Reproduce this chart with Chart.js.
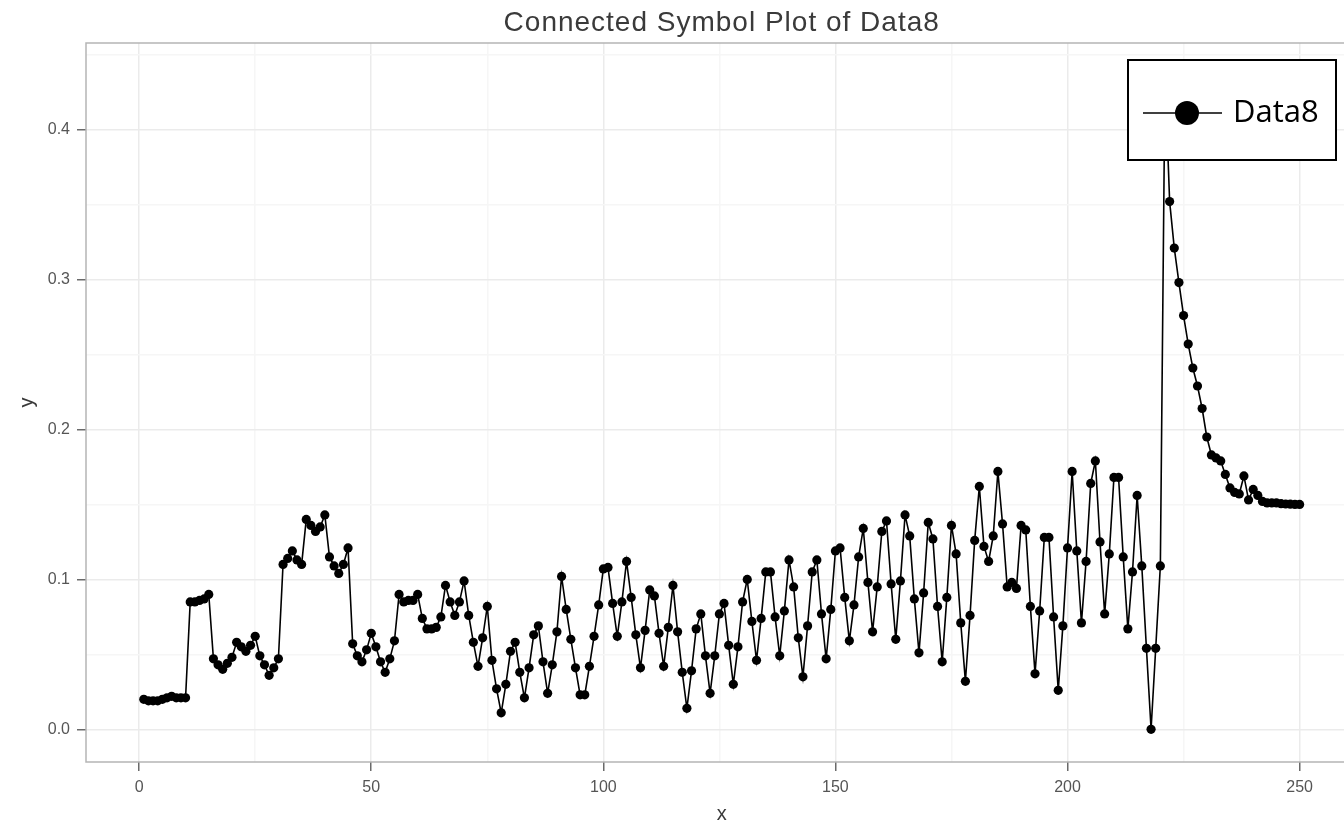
<!DOCTYPE html>
<html>
<head>
<meta charset="utf-8">
<script src="https://cdn.jsdelivr.net/npm/chart.js@4/dist/chart.umd.min.js"></script>
<style>
    html, body { margin: 0; padding: 0; background: #fff; overflow: hidden; }
    #wrap { position: relative; width: 1362px; height: 826px; }
</style>
</head>
<body>
<div id="wrap"><canvas id="plot"></canvas></div>
<script>
// Data8 readings, one per index (x = 1..250)
const data8 = [
    0.020, 0.019, 0.019, 0.019, 0.020, 0.021, 0.022, 0.021, 0.021, 0.021,
    0.085, 0.085, 0.086, 0.087, 0.090, 0.047, 0.043, 0.040, 0.044, 0.048,
    0.058, 0.055, 0.052, 0.056, 0.062, 0.049, 0.043, 0.036, 0.041, 0.047,
    0.110, 0.114, 0.119, 0.113, 0.110, 0.140, 0.136, 0.132, 0.135, 0.143,
    0.115, 0.109, 0.104, 0.110, 0.121, 0.057, 0.049, 0.045, 0.053, 0.064,
    0.055, 0.045, 0.038, 0.047, 0.059, 0.090, 0.085, 0.086, 0.086, 0.090,
    0.074, 0.067, 0.067, 0.068, 0.075, 0.096, 0.085, 0.076, 0.085, 0.099,
    0.076, 0.058, 0.042, 0.061, 0.082, 0.046, 0.027, 0.011, 0.030, 0.052,
    0.058, 0.038, 0.021, 0.041, 0.063, 0.069, 0.045, 0.024, 0.043, 0.065,
    0.102, 0.080, 0.060, 0.041, 0.023, 0.023, 0.042, 0.062, 0.083, 0.107,
    0.108, 0.084, 0.062, 0.085, 0.112, 0.088, 0.063, 0.041, 0.066, 0.093,
    0.089, 0.064, 0.042, 0.068, 0.096, 0.065, 0.038, 0.014, 0.039, 0.067,
    0.077, 0.049, 0.024, 0.049, 0.077, 0.084, 0.056, 0.030, 0.055, 0.085,
    0.100, 0.072, 0.046, 0.074, 0.105, 0.105, 0.075, 0.049, 0.079, 0.113,
    0.095, 0.061, 0.035, 0.069, 0.105, 0.113, 0.077, 0.047, 0.080, 0.119,
    0.121, 0.088, 0.059, 0.083, 0.115, 0.134, 0.098, 0.065, 0.095, 0.132,
    0.139, 0.097, 0.060, 0.099, 0.143, 0.129, 0.087, 0.051, 0.091, 0.138,
    0.127, 0.082, 0.045, 0.088, 0.136, 0.117, 0.071, 0.032, 0.076, 0.126,
    0.162, 0.122, 0.112, 0.129, 0.172, 0.137, 0.095, 0.098, 0.094, 0.136,
    0.133, 0.082, 0.037, 0.079, 0.128, 0.128, 0.075, 0.026, 0.069, 0.121,
    0.172, 0.119, 0.071, 0.112, 0.164, 0.179, 0.125, 0.077, 0.117, 0.168,
    0.168, 0.115, 0.067, 0.105, 0.156, 0.109, 0.054, 0.000, 0.054, 0.109,
    0.436, 0.352, 0.321, 0.298, 0.276, 0.257, 0.241, 0.229, 0.214, 0.195,
    0.183, 0.181, 0.179, 0.170, 0.161, 0.158, 0.157, 0.169, 0.153, 0.160,
    0.156, 0.152, 0.151, 0.151, 0.151, 0.1505, 0.1503, 0.1502, 0.150, 0.150
];

// grid positions: labelled majors plus the unlabelled minors in between
const xTicks = [0, 25, 50, 75, 100, 125, 150, 175, 200, 225, 250];
const xLabels = ['0', '50', '100', '150', '200', '250'];
const yTicks = [0, 0.05, 0.1, 0.15, 0.2, 0.25, 0.3, 0.35, 0.4, 0.45];
const yLabels = ['0.0', '0.1', '0.2', '0.3', '0.4'];

const plotTitle = 'Connected Symbol Plot of Data8';
const seriesName = 'Data8';

const isMajor = (v, step) => Math.abs(v / step - Math.round(v / step)) < 1e-6;

function gridColor(step) {
    return ctx => {
        const v = ctx.tick ? ctx.tick.value : 0;
        return isMajor(v, step) ? '#ebebeb' : '#f6f6f6';
    };
}
function tickMarkColor(step) {
    return ctx => {
        const v = ctx.tick ? ctx.tick.value : 0;
        return isMajor(v, step) ? '#6a6a6a' : 'rgba(0,0,0,0)';
    };
}

// panel border, titles and the boxed legend
const decor = {
    id: 'decor',
    afterDraw(chart) {
        const { ctx, chartArea: a } = chart;
        ctx.save();
        ctx.strokeStyle = '#b5b5b5';
        ctx.lineWidth = 1.5;
        ctx.strokeRect(a.left, a.top, a.right - a.left, a.bottom - a.top);

        const mid = (a.left + a.right) / 2;
        ctx.fillStyle = '#3a3a3a';
        ctx.textAlign = 'center';
        ctx.textBaseline = 'middle';
        ctx.font = '28px "Liberation Sans", Arial, sans-serif';
        ctx.letterSpacing = '1px';
        ctx.fillText(plotTitle, mid, 23);
        ctx.letterSpacing = '0px';

        ctx.font = '20px "Liberation Sans", Arial, sans-serif';
        ctx.fillText('x', mid, 814);
        ctx.save();
        ctx.translate(27, (a.top + a.bottom) / 2);
        ctx.rotate(-Math.PI / 2);
        ctx.fillText('y', 0, 0);
        ctx.restore();

        // legend box
        ctx.fillStyle = '#fff';
        ctx.fillRect(1128, 60, 208, 100);
        ctx.strokeStyle = '#000';
        ctx.lineWidth = 2;
        ctx.strokeRect(1128, 60, 208, 100);
        ctx.lineWidth = 1.5;
        ctx.beginPath();
        ctx.moveTo(1143, 113);
        ctx.lineTo(1222, 113);
        ctx.stroke();
        ctx.fillStyle = '#000';
        ctx.beginPath();
        ctx.arc(1187, 113, 12, 0, Math.PI * 2);
        ctx.fill();
        ctx.textAlign = 'left';
        ctx.font = '31px "Open Sans", "Liberation Sans", sans-serif';
        ctx.fillText(seriesName, 1233, 113);
        ctx.restore();
    }
};

const chart = new Chart(document.getElementById('plot'), {
    type: 'line',
    data: {
        datasets: [{
            label: seriesName,
            data: data8.map((y, i) => ({ x: i + 1, y })),
            borderColor: '#000',
            backgroundColor: '#000',
            borderWidth: 1.6,
            pointRadius: 4.6,
            pointBorderWidth: 0,
            tension: 0
        }]
    },
    options: {
        responsive: true,
        maintainAspectRatio: false,
        animation: false,
        layout: { padding: { top: 43, right: 2, left: 0, bottom: 0 } },
        plugins: { legend: { display: false }, title: { display: false }, tooltip: { enabled: false } },
        scales: {
            x: {
                type: 'linear',
                min: -11.45,
                max: 262.45,
                afterBuildTicks: s => { s.ticks = xTicks.map(v => ({ value: v })); },
                afterFit: s => { s.height = 64; },
                border: { display: false },
                grid: { color: gridColor(50), lineWidth: 1.5, tickLength: 9, tickColor: tickMarkColor(50), tickWidth: 1.5 },
                ticks: {
                    autoSkip: false,
                    maxRotation: 0,
                    padding: 7,
                    color: '#555',
                    font: { family: '"Liberation Sans", Arial, sans-serif', size: 16 },
                    callback: v => isMajor(v, 50) ? xLabels[Math.round(v / 50)] : ''
                }
            },
            y: {
                type: 'linear',
                min: -0.0218,
                max: 0.4578,
                afterBuildTicks: s => { s.ticks = yTicks.map(v => ({ value: v })); },
                afterFit: s => { s.width = 86; },
                border: { display: false },
                grid: { color: gridColor(0.1), lineWidth: 1.5, tickLength: 9, tickColor: tickMarkColor(0.1), tickWidth: 1.5 },
                ticks: {
                    autoSkip: false,
                    padding: 7,
                    color: '#555',
                    font: { family: '"Liberation Sans", Arial, sans-serif', size: 16 },
                    callback: v => isMajor(v, 0.1) ? yLabels[Math.round(v / 0.1)] : ''
                }
            }
        }
    },
    plugins: [decor]
});
</script>
</body>
</html>
